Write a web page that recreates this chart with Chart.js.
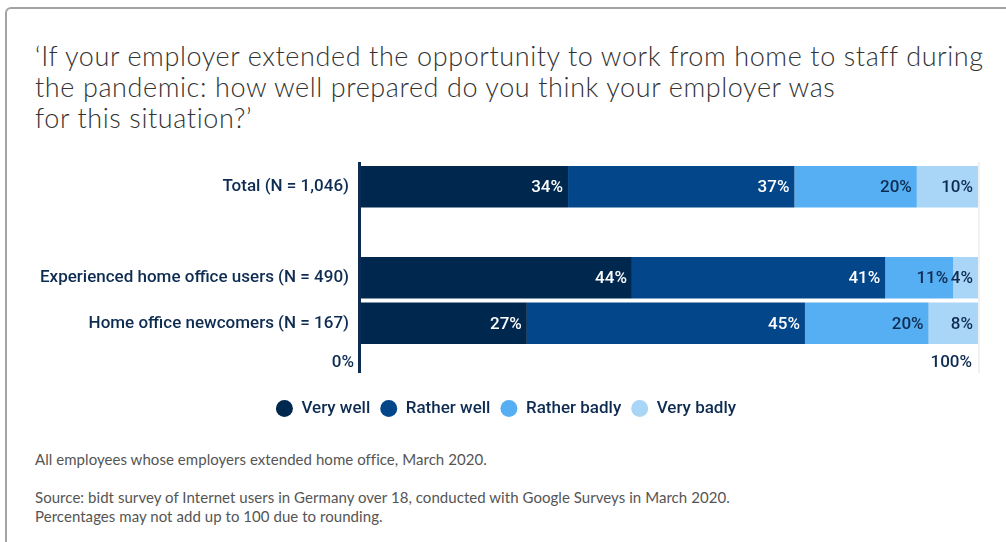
<!DOCTYPE html>
<html>
<head>
<meta charset="utf-8">
<script src="https://cdn.jsdelivr.net/npm/chart.js@4.4.1/dist/chart.umd.min.js"></script>
<style>
  html, body { margin: 0; padding: 0; background: #fff; overflow: hidden; }
  body { width: 1006px; height: 542px; position: relative; }
  .card {
    position: absolute; left: 5px; top: 7px; width: 1100px; height: 600px;
    border: 2px solid #a3a3a3; border-radius: 6px; box-sizing: border-box;
  }
  .title {
    position: absolute; left: 35px; top: 40px; margin: 0;
    font: 300 27px/31px Lato, sans-serif; letter-spacing: 0.6px; color: #333;
    white-space: nowrap;
  }
  .chart-wrap { position: absolute; left: 0; top: 140px; width: 1012px; height: 288px; }
  .notes {
    position: absolute; left: 35px; top: 450px; margin: 0;
    font: 400 15px/19px Lato, sans-serif; letter-spacing: 0.05px; color: #555;
  }
  .notes p { margin: 0 0 19px 0; }
</style>
</head>
<body>
<div class="card"></div>
<h1 class="title">‘If your employer extended the opportunity to work from home to staff during<br>the pandemic: how well prepared do you think your employer was<br>for this situation?’</h1>
<div class="chart-wrap"><canvas id="prepChart"></canvas></div>
<div class="notes">
  <p>All employees whose employers extended home office, March 2020.</p>
  <p>Source: bidt survey of Internet users in Germany over 18, conducted with Google Surveys in March 2020.<br>Percentages may not add up to 100 due to rounding.</p>
</div>

<script>
    // survey answers in percent, one entry per group (empty row is a spacer)
    const groups = ['Total (N = 1,046)', '', 'Experienced home office users (N = 490)', 'Home office newcomers (N = 167)'];
    const veryWell = [34, null, 44, 27];
    const ratherWell = [37, null, 41, 45];
    const ratherBadly = [20, null, 11, 20];
    const veryBadly = [10, null, 4, 8];

    const seriesNames = ['Very well', 'Rather well', 'Rather badly', 'Very badly'];
    const seriesColors = ['#00284f', '#03478a', '#56aff3', '#a9d5f7'];
    const labelColors = ['#ffffff', '#ffffff', '#0e2c52', '#0e2c52'];

    const axisTickValues = [0, 100];
    const axisTickLabels = ['0%', '100%'];

    const navy = '#0e2c52';
    const labelFont = '500 17px Roboto';
    const series = [veryWell, ratherWell, ratherBadly, veryBadly];

    // each row is shown as a 100% bar, so scale values by the row total
    const rowTotals = groups.map((g, i) => series.reduce((s, arr) => s + (arr[i] || 0), 0));
    const shareOf = (arr) => arr.map((v, i) => v == null ? null : v / rowTotals[i] * 100);

    const valueLabels = {
        id: 'valueLabels',
        afterDatasetsDraw(chart) {
            const ctx = chart.ctx;
            ctx.save();
            ctx.font = labelFont;
            ctx.textAlign = 'right';
            ctx.textBaseline = 'middle';
            chart.data.datasets.forEach((ds, di) => {
                const meta = chart.getDatasetMeta(di);
                meta.data.forEach((bar, i) => {
                    const raw = series[di][i];
                    if (raw == null) return;
                    ctx.fillStyle = labelColors[di];
                    ctx.fillText(raw + '%', bar.x - 5, bar.y + 1);
                });
            });
            ctx.restore();
        }
    };

    const valueAxis = {
        id: 'valueAxis',
        beforeDatasetsDraw(chart) {
            const { ctx, chartArea, scales } = chart;
            const x100 = scales.x.getPixelForValue(100);
            ctx.save();
            ctx.strokeStyle = '#f1f1f1';
            ctx.lineWidth = 2;
            ctx.beginPath();
            ctx.moveTo(x100 + 1, chartArea.top - 2);
            ctx.lineTo(x100 + 1, chartArea.bottom + 27);
            ctx.stroke();
            ctx.restore();
        },
        afterDatasetsDraw(chart) {
            const { ctx, chartArea, scales } = chart;
            const x0 = scales.x.getPixelForValue(0);
            ctx.save();
            ctx.strokeStyle = navy;
            ctx.lineWidth = 3;
            ctx.beginPath();
            ctx.moveTo(x0 - 0.5, chartArea.top - 2);
            ctx.lineTo(x0 - 0.5, chartArea.bottom + 27);
            ctx.stroke();

            ctx.font = labelFont;
            ctx.fillStyle = navy;
            ctx.textAlign = 'right';
            ctx.textBaseline = 'middle';
            axisTickValues.forEach((v, i) => {
                ctx.fillText(axisTickLabels[i], scales.x.getPixelForValue(v) - 6, chartArea.bottom + 17);
            });
            ctx.restore();
        }
    };

    const ctx = document.getElementById('prepChart').getContext('2d');
    new Chart(ctx, {
        type: 'bar',
        data: {
            labels: groups,
            datasets: series.map((arr, i) => ({
                label: seriesNames[i],
                data: shareOf(arr),
                backgroundColor: seriesColors[i],
                borderColor: seriesColors[i],
                borderWidth: 0,
                categoryPercentage: 1,
                barPercentage: 0.911
            }))
        },
        options: {
            indexAxis: 'y',
            responsive: true,
            maintainAspectRatio: false,
            animation: false,
            layout: { padding: { top: 24, right: 0, left: 0, bottom: 1 } },
            plugins: {
                title: { display: false },
                tooltip: { enabled: false },
                legend: {
                    position: 'bottom',
                    labels: {
                        usePointStyle: true,
                        pointStyle: 'circle',
                        boxWidth: 17,
                        boxHeight: 12,
                        padding: 10,
                        color: navy,
                        font: { family: 'Roboto', weight: '500', size: 17 }
                    }
                }
            },
            scales: {
                x: {
                    stacked: true,
                    min: 0,
                    max: 100,
                    grid: { display: false },
                    border: { display: false },
                    ticks: { display: false },
                    afterFit: (scale) => { scale.height = 44; }
                },
                y: {
                    stacked: true,
                    grid: { display: false, drawTicks: false },
                    border: { display: false },
                    ticks: {
                        padding: 11,
                        color: navy,
                        font: { family: 'Roboto', weight: '500', size: 17 }
                    },
                    afterFit: (scale) => { scale.width = 360; }
                },
                // empty right-hand axis that keeps the bars clear of the right margin
                yRight: {
                    type: 'category',
                    position: 'right',
                    grid: { display: false, drawTicks: false },
                    border: { display: false },
                    ticks: { display: false },
                    afterFit: (scale) => { scale.width = 34; }
                }
            }
        },
        plugins: [valueAxis, valueLabels]
    });
</script>
</body>
</html>
